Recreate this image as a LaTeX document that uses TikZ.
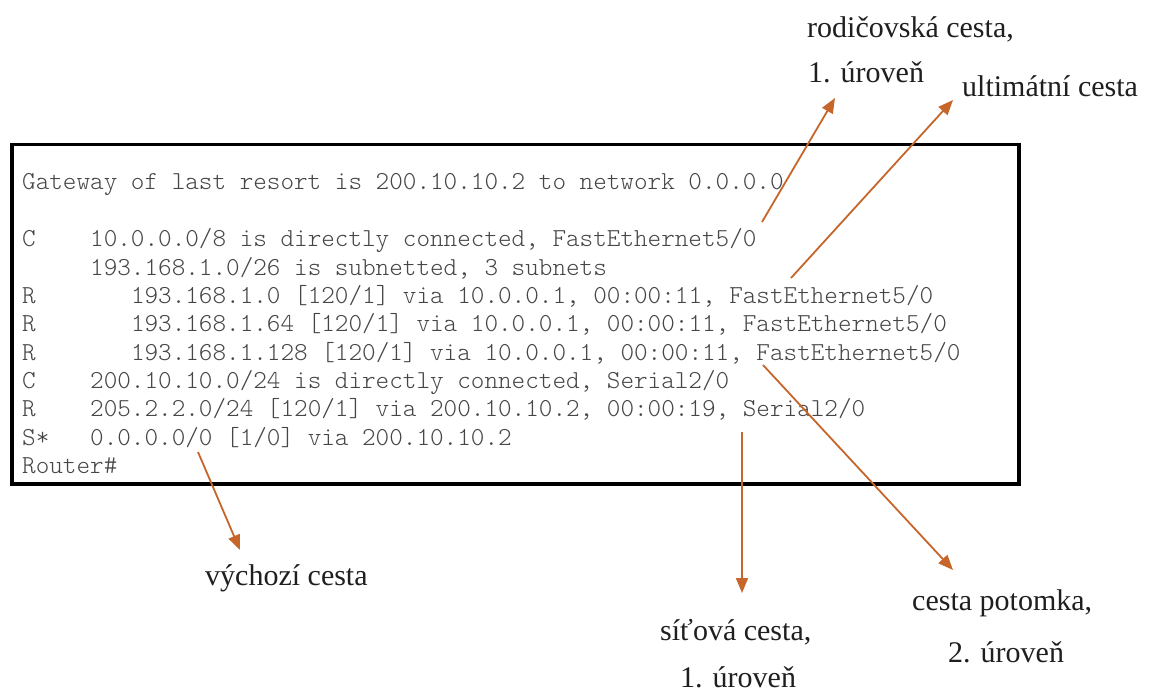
\documentclass[tikz,border=0pt]{standalone}
\usepackage{fontspec}
\setmainfont{Liberation Serif}
\newfontfamily\termfont{lmmonolt10-regular.otf}
\usetikzlibrary{arrows.meta}
\definecolor{arr}{RGB}{198,102,42}
\definecolor{term}{RGB}{70,70,70}
\begin{document}
\begin{tikzpicture}[x=1pt,y=-1pt,
  mono/.style={anchor=base west,inner sep=0pt,font=\fontsize{25.9}{27}\termfont,text=term},
  lbl/.style={anchor=base west,inner sep=0pt,font=\fontsize{30}{32}\selectfont,text=black!88},
  pointer/.style={draw=arr,line width=1.8pt,-{Triangle[length=15pt,width=12pt]}}]
\useasboundingbox (0,0) rectangle (1158,692);
\fill[white] (0,0) rectangle (1158,692);
% terminal box
\node[draw=black,line width=3.5pt,minimum width=1007pt,minimum height=339pt,inner sep=0pt,anchor=north west] (screen) at (10,143) {};
% terminal lines
\node[mono] (l0) at (22,190) {Gateway of last resort is 200.10.10.2 to network 0.0.0.0};
\node[mono] (f2) at (22,247) {C};
\node[mono] (l2) at (90,247) {10.0.0.0/8 is directly connected, FastEthernet5/0};
\node[mono] (l3) at (90,275.3) {193.168.1.0/26 is subnetted, 3 subnets};
\node[mono] (f4) at (22,303.6) {R};
\node[mono] (l4) at (130.8,303.6) {193.168.1.0 [120/1] via 10.0.0.1, 00:00:11, FastEthernet5/0};
\node[mono] (f5) at (22,331.9) {R};
\node[mono] (l5) at (130.8,331.9) {193.168.1.64 [120/1] via 10.0.0.1, 00:00:11, FastEthernet5/0};
\node[mono] (f6) at (22,360.2) {R};
\node[mono] (l6) at (130.8,360.2) {193.168.1.128 [120/1] via 10.0.0.1, 00:00:11, FastEthernet5/0};
\node[mono] (f7) at (22,388.5) {C};
\node[mono] (l7) at (90,388.5) {200.10.10.0/24 is directly connected, Serial2/0};
\node[mono] (f8) at (22,416.8) {R};
\node[mono] (l8) at (90,416.8) {205.2.2.0/24 [120/1] via 200.10.10.2, 00:00:19, Serial2/0};
\node[mono] (f9) at (22,445.1) {S*};
\node[mono] (l9) at (90,445.1) {0.0.0.0/0 [1/0] via 200.10.10.2};
\node[mono] (l10) at (22,473.4) {Router\#};
% labels
\node[lbl] (parent1) at (807,38) {rodičovská cesta,};
\node[lbl] (parent2) at (808,83) {1. úroveň};
\node[lbl] (ultimate) at (962,97) {ultimátní cesta};
\node[lbl] (default) at (205,585) {výchozí cesta};
\node[lbl] (net1) at (660,640) {síťová cesta,};
\node[lbl] (net2) at (680,687) {1. úroveň};
\node[lbl] (child1) at (912,610) {cesta potomka,};
\node[lbl] (child2) at (948,662) {2. úroveň};
% arrow endpoints
\coordinate (s1) at (762,222); \coordinate (t1) at (835,98);
\coordinate (s2) at (791,278); \coordinate (t2) at (953,100);
\coordinate (s3) at (763,365); \coordinate (t3) at (953,570);
\coordinate (s4) at (742,432); \coordinate (t4) at (742,593);
\coordinate (s5) at (198,452); \coordinate (t5) at (240,550);
\draw[pointer] (s1) -- (t1);
\draw[pointer] (s2) -- (t2);
\draw[pointer] (s3) -- (t3);
\draw[pointer] (s4) -- (t4);
\draw[pointer] (s5) -- (t5);
\end{tikzpicture}
\end{document}
